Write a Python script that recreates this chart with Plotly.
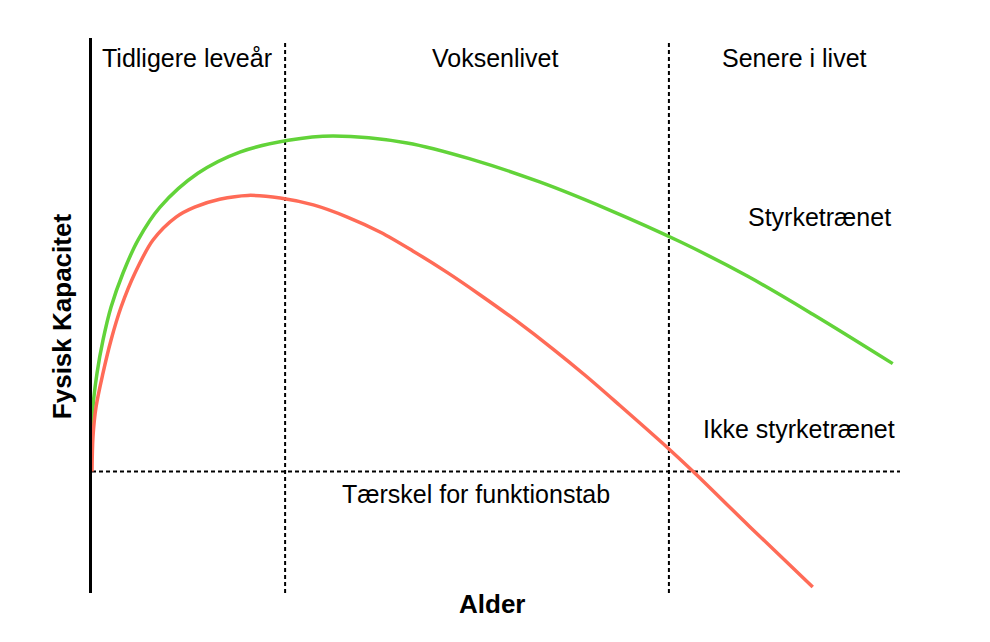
import plotly.graph_objects as go

# curve samples (x = age units 0-100, y = capacity)
x_trained = [0, 0.12, 0.62, 1.36, 2.35, 3.84, 5.69, 8.42, 13.1, 18.3, 24.3, 29.8, 39.0, 47.2, 55.4, 63.7, 72.8, 81.1, 89.2, 99.1]
y_trained = [9.1, 14.9, 22.7, 30.3, 37.9, 45.8, 53.4, 61.0, 68.8, 73.7, 76.4, 77.4, 75.8, 71.9, 66.8, 60.6, 53.0, 45.1, 36.3, 24.9]

x_untrained = [0, 0.12, 0.5, 1.36, 2.35, 3.59, 5.32, 7.55, 10.4, 12.7, 15.8, 19.3, 23.3, 27.4, 31.6,
               35.7, 39.7, 43.9, 48.0, 52.5, 57.1, 61.1, 65.3, 71.3, 74.3, 81.4, 89.2]
y_untrained = [0, 8.0, 14.9, 22.7, 30.3, 37.9, 45.8, 53.4, 58.7, 61.0, 62.8, 63.7, 63.1, 61.5, 58.7,
               55.2, 50.9, 46.0, 40.8, 34.8, 28.2, 22.1, 15.3, 5.4, 0.2, -12.7, -26.6]

phases = ["Tidligere leveår", "Voksenlivet", "Senere i livet"]
phase_bounds = [23.9, 71.4]
threshold = 0

font = "Liberation Sans, Arial, Helvetica, sans-serif"

fig = go.Figure()

fig.add_trace(go.Scatter(x=x_trained, y=y_trained, mode="lines",
                         line=dict(color="#62d339", width=3.5, shape="spline", smoothing=1),
                         hoverinfo="skip"))
fig.add_trace(go.Scatter(x=x_untrained, y=y_untrained, mode="lines",
                         line=dict(color="#ff6b57", width=3.5, shape="spline", smoothing=0.9),
                         hoverinfo="skip"))

dash = dict(color="black", width=2, dash="4px,3px")
for b in phase_bounds:
    fig.add_shape(type="line", x0=b, x1=b, y0=-28, y1=99.5, xref="x", yref="y", line=dash, layer="below")
fig.add_shape(type="line", x0=0, x1=100, y0=threshold, y1=threshold, xref="x", yref="y", line=dash, layer="below")

txt = dict(family=font, size=25, color="black")
label_x = [11.8, 49.9, 86.9]
for name, lx in zip(phases, label_x):
    fig.add_annotation(x=lx, y=95.4, text=name, showarrow=False, font=txt)

fig.add_annotation(x=90.0, y=58.7, text="Styrketrænet", showarrow=False, font=txt)
fig.add_annotation(x=87.5, y=9.8, text="Ikke styrketrænet", showarrow=False, font=txt)
fig.add_annotation(x=47.5, y=-5.2, text="Tærskel for funktionstab", showarrow=False, font=txt)

bold = dict(family=font, size=26, color="black")
fig.add_annotation(x=0.495, y=-0.02, xref="paper", yref="paper", text="<b>Alder</b>",
                   showarrow=False, font=bold, xanchor="center", yanchor="middle")
fig.add_annotation(x=-0.037, y=0.499, xref="paper", yref="paper", text="<b>Fysisk Kapacitet</b>",
                   showarrow=False, font=bold, textangle=-90, xanchor="center", yanchor="middle")

fig.update_xaxes(range=[0, 100], showgrid=False, zeroline=False, showticklabels=False,
                 ticks="", showline=False)
fig.update_yaxes(range=[-28, 100], showgrid=False, zeroline=False, showticklabels=False,
                 ticks="", showline=True, linecolor="black", linewidth=3)

# page body adds ~8px offset, so margins are shifted to compensate
fig.update_layout(
    width=990, height=642,
    margin=dict(l=84, r=98, t=30, b=57),
    plot_bgcolor="white", paper_bgcolor="white",
    showlegend=False,
)

fig.write_html("out.html")
